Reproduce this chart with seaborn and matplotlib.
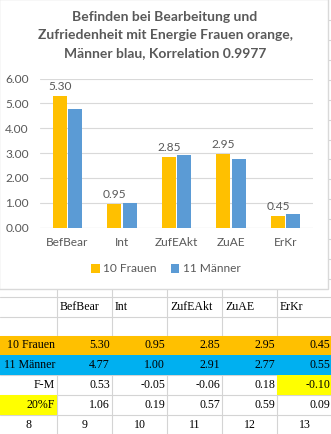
import matplotlib
matplotlib.use('Agg')
import matplotlib.pyplot as plt
import seaborn as sns
import pandas as pd
import numpy as np
from matplotlib.patches import Rectangle

# ---------------- data ----------------
categories = ['BefBear', 'Int', 'ZufEAkt', 'ZuAE', 'ErKr']
series_names = ['10 Frauen', '11 Männer']
frauen = [5.30, 0.95, 2.85, 2.95, 0.45]
maenner = [4.77, 1.00, 2.91, 2.77, 0.55]
diff_fm = [0.53, -0.05, -0.06, 0.18, -0.10]
pct20_f = [1.06, 0.19, 0.57, 0.59, 0.09]
row_labels = ['10 Frauen', '11 Männer', 'F-M', '20%F']
y_ticks = [0, 1, 2, 3, 4, 5, 6]
row_numbers = ['8', '9', '10', '11', '12', '13']
title_lines = ['Befinden bei Bearbeitung und',
               'Zufriedenheit mit Energie Frauen orange,',
               'Männer blau, Korrelation 0.9977']

# ---------------- styling ----------------
ORANGE = '#FFC000'
BLUE_BAR = '#5B9BD5'
BLUE_CELL = '#00B0F0'
YELLOW = '#FFFF00'
GRAY_TXT = '#595959'
GRID = '#d9d9d9'
SHEET_GRID = '#d4d4d4'
CHART_FONT = ['Lato', 'DejaVu Sans']
SHEET_FONT = ['Liberation Serif', 'DejaVu Serif']

sns.set_theme(style='white')
plt.rcParams['font.family'] = CHART_FONT

W, H = 331, 434
fig = plt.figure(figsize=(W / 100, H / 100), dpi=100)
fig.patch.set_facecolor('white')

# background "spreadsheet" axes in pixel coordinates
bg = fig.add_axes([0, 0, 1, 1], zorder=0)
bg.set_xlim(0, W)
bg.set_ylim(H, 0)
bg.axis('off')

col_lines = [57, 112, 167, 222, 277, 332]
col_left = [0] + col_lines[:-1]
row_lines_top = list(np.arange(20, 290, 19.92))
row_lines = [297, 316.5, 335.5, 355, 375, 395, 415, 434.5]

for x in col_lines:
    bg.plot([x, x], [0, H], color=SHEET_GRID, lw=0.8, zorder=1)
for y in row_lines_top + row_lines:
    bg.plot([0, W], [y, y], color=SHEET_GRID, lw=0.8, zorder=1)

# cell fills
bg.add_patch(Rectangle((0, row_lines[2]), W, row_lines[3] - row_lines[2], color=ORANGE, zorder=2, lw=0))
bg.add_patch(Rectangle((0, row_lines[3]), W, row_lines[4] - row_lines[3], color=BLUE_CELL, zorder=2, lw=0))
bg.add_patch(Rectangle((col_left[5], row_lines[4]), col_lines[5] - col_left[5], row_lines[5] - row_lines[4],
                       color=YELLOW, zorder=2, lw=0))
bg.add_patch(Rectangle((col_left[0], row_lines[5]), col_lines[0] - col_left[0], row_lines[6] - row_lines[5],
                       color=YELLOW, zorder=2, lw=0))

fs_sheet = 8.6
tkw = dict(family=SHEET_FONT, fontsize=fs_sheet, color='black', zorder=3, va='center')


def mid(i):
    return (row_lines[i] + row_lines[i + 1]) / 2


# header row
for j, c in enumerate(categories):
    bg.text(col_left[j + 1] + 3, mid(0), c, ha='left', **tkw)

# data rows
table_rows = [frauen, maenner, diff_fm, pct20_f]
for r, (lab, vals) in enumerate(zip(row_labels, table_rows)):
    ri = r + 2
    bg.text(col_lines[0] - 2, mid(ri), lab, ha='right', **tkw)
    for j, v in enumerate(vals):
        bg.text(col_lines[j + 1] - 2, mid(ri), f'{v:.2f}', ha='right', **tkw)

# numbers row
for j, n in enumerate(row_numbers):
    bg.text((col_left[j] + col_lines[j]) / 2, mid(6), n, ha='center', **tkw)

# chart frame
bg.add_patch(Rectangle((-1, -1), 329, 290, facecolor='white', edgecolor=GRID, lw=1, zorder=4))

# title
for k, line in enumerate(title_lines):
    bg.text(165, 17 + k * 18, line, ha='center', va='center', fontsize=10, fontweight='bold',
            color=GRAY_TXT, family=CHART_FONT, zorder=5)

# ---------------- chart ----------------
df = pd.DataFrame({
    'cat': categories * 2,
    'grp': [series_names[0]] * len(categories) + [series_names[1]] * len(categories),
    'val': frauen + maenner,
})

ax = fig.add_axes([40 / W, 1 - 227.5 / H, 273 / W, 149 / H], zorder=5)
ax.patch.set_alpha(0)
sns.barplot(data=df, x='cat', y='val', hue='grp', order=categories, hue_order=series_names,
            palette=[ORANGE, BLUE_BAR], width=0.56, gap=0.09, saturation=1, ax=ax, legend=True,
            edgecolor='none', linewidth=0, errorbar=None)

ax.set_xlim(-0.5, 4.5)
ax.set_ylim(0, 6)
ax.set_yticks(y_ticks)
ax.set_yticklabels([f'{v:.2f}' for v in y_ticks])
ax.set_xlabel('')
ax.set_ylabel('')
for s in ax.spines.values():
    s.set_visible(False)
ax.yaxis.grid(True, color=GRID, lw=0.8)
ax.set_axisbelow(True)
ax.axhline(0, color=GRID, lw=0.8, zorder=0)
ax.tick_params(axis='both', length=0, labelsize=8.6, labelcolor=GRAY_TXT)
ax.tick_params(axis='y', pad=8)
ax.tick_params(axis='x', pad=7)

ax.bar_label(ax.containers[0], fmt='%.2f', padding=3, fontsize=8.6, color=GRAY_TXT)

leg = ax.legend(loc='center', bbox_to_anchor=(166 / W, 1 - 269 / H), bbox_transform=fig.transFigure,
                ncol=2, frameon=False, fontsize=8.6, handlelength=0.7, handleheight=0.7,
                handletextpad=0.3, columnspacing=1.2, borderpad=0)
for t in leg.get_texts():
    t.set_color(GRAY_TXT)

fig.savefig('out.png', dpi=100)
